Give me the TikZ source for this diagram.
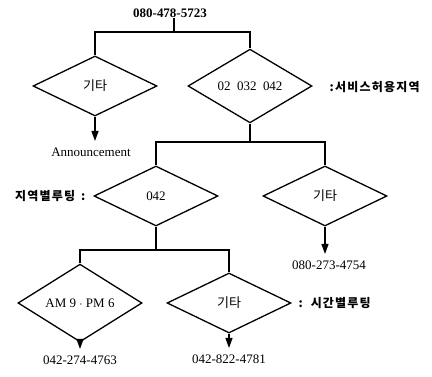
\documentclass[tikz,border=0pt]{standalone}
\usepackage{fontspec}
\setmainfont{Liberation Serif}
\newfontfamily\kr{Noto Sans CJK KR}
\newfontfamily\krs[LetterSpace=10]{Noto Sans CJK KR}
\usetikzlibrary{shapes.geometric,arrows.meta}
\begin{document}
\begin{tikzpicture}[x=1pt,y=-1pt,
  line width=1.3pt,
  dia/.style={draw,diamond,minimum width=124pt,minimum height=60pt,inner sep=0pt,font=\fontsize{13}{15}\selectfont},
  lab/.style={inner sep=0pt,font=\fontsize{13}{15}\selectfont},
  side/.style={inner sep=0pt,font=\krs\bfseries\fontsize{12}{14}\selectfont},
  arr/.style={-{Triangle[length=10pt,width=7pt]},shorten >=6pt}]
\useasboundingbox[fill=white] (0,0) rectangle (432,377);
% title
\node[lab,font=\bfseries\fontsize{13}{15}\selectfont] (title) at (170,13) {080-478-5723};
\coordinate (j1) at (174,32);
% level 1
\node[dia] (d1) at (95,86) {\kr 기타};
\node[dia] (d2) at (250,86) {02\ \ 032\ \ 042};
\node[side,anchor=west] (s1) at (329,87) {:서비스허용지역};
\draw (title.south -| j1) -- (j1);
\draw (d1.north) -- (d1.north |- j1) -- (d2.north |- j1) -- (d2.north);
\node[lab] (ann) at (91,152) {Announcement};
\draw[arr] (d1.south) -- (ann.north -| d1.south);
% level 2
\coordinate (j2) at (250,142);
\node[dia] (d3) at (156,196) {042};
\node[dia] (d4) at (325,196) {\kr 기타};
\node[side,anchor=east] (s2) at (86,196) {지역별루팅 \,:};
\draw (d2.south) -- (j2);
\draw (d3.north) -- (d3.north |- j2) -- (d4.north |- j2) -- (d4.north);
\node[lab] (o1) at (329,265) {080-273-4754};
\draw[arr] (d4.south) -- (o1.north -| d4.south);
% level 3
\coordinate (j3) at (156,250);
\node[dia] (d5) at (80,303) {AM 9 $\cdot$ PM 6};
\node[dia] (d6) at (229,303) {\kr 기타};
\node[side,anchor=west] (s3) at (298,303) {:\ \ 시간별루팅};
\draw (d3.south) -- (j3);
\draw (d5.north) -- (d5.north |- j3) -- (d6.north |- j3) -- (d6.north);
\node[lab] (o2) at (80,360) {042-274-4763};
\node[lab] (o3) at (229,359) {042-822-4781};
\draw[arr] (d5.south) -- (o2.north -| d5.south);
\draw[arr] (d6.south) -- (o3.north -| d6.south);
\end{tikzpicture}
\end{document}
